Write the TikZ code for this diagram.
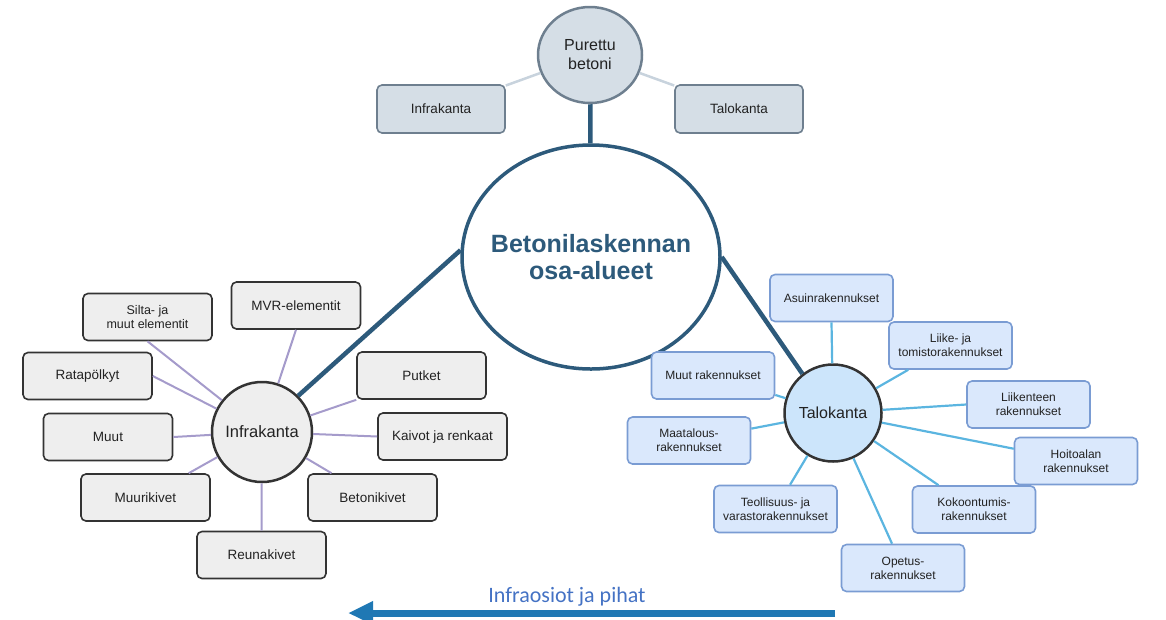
\documentclass[tikz,border=0pt]{standalone}
\usepackage{fontspec}
\setmainfont{Liberation Sans}
\newfontfamily\calibri{Carlito}
\usetikzlibrary{shapes.geometric,arrows.meta}
\definecolor{lbfill}{HTML}{EEEEEE}
\definecolor{lbdraw}{HTML}{333333}
\definecolor{lline}{HTML}{A59BCB}
\definecolor{rbfill}{HTML}{DAE8FC}
\definecolor{rbdraw}{HTML}{7A9CD3}
\definecolor{rline}{HTML}{5BB5E0}
\definecolor{tbfill}{HTML}{D5DEE6}
\definecolor{tbdraw}{HTML}{6E7F8F}
\definecolor{tline}{HTML}{C8D3DD}
\definecolor{mainc}{HTML}{2D5A7B}
\definecolor{tkfill}{HTML}{CCE5FB}
\definecolor{txt}{HTML}{222222}
\definecolor{arrowc}{HTML}{1F78B4}
\definecolor{arrowtxt}{HTML}{4472C4}
\begin{document}
\begin{tikzpicture}[x=1pt,y=-1pt,
  lbox/.style={draw=lbdraw,fill=lbfill,line width=1.6pt,rounded corners=5pt,minimum width=129pt,minimum height=47pt,inner sep=0pt,align=center,text=txt,font=\fontsize{13.5}{15}\selectfont},
  lbox2/.style={lbox,font=\fontsize{12.5}{13.5}\selectfont},
  rbox/.style={draw=rbdraw,fill=rbfill,line width=1.6pt,rounded corners=5pt,minimum width=123pt,minimum height=47pt,inner sep=0pt,align=center,text=txt,font=\fontsize{12}{14}\selectfont},
  tbox/.style={draw=tbdraw,fill=tbfill,line width=1.6pt,rounded corners=5pt,minimum width=128pt,minimum height=48pt,inner sep=0pt,align=center,text=txt,font=\fontsize{13.5}{15}\selectfont},
  lcon/.style={draw=lline,line width=2pt},
  rcon/.style={draw=rline,line width=2.2pt},
  tcon/.style={draw=tline,line width=2.5pt},
  thick/.style={draw=mainc,line width=4.5pt},
]
\useasboundingbox (0,0) rectangle (1166,619);

% main
\node[ellipse,draw=mainc,fill=white,line width=3.5pt,minimum width=258pt,minimum height=224pt,inner sep=0pt,align=center,text=mainc,font=\bfseries\fontsize{25}{27}\selectfont] (main) at (591,257) {\makebox[0pt][c]{Betonilaskennan}\\\makebox[0pt][c]{osa-alueet}};

% top
\node[ellipse,draw=tbdraw,fill=tbfill,line width=2.5pt,minimum width=104pt,minimum height=96pt,inner sep=0pt,align=center,text=txt,font=\fontsize{16}{19}\selectfont] (pb) at (590,55) {Purettu\\betoni};
\node[tbox] (tik) at (441,109) {Infrakanta};
\node[tbox] (ttk) at (739,109) {Talokanta};

% left cluster
\node[circle,draw=lbdraw,fill=lbfill,line width=2.5pt,minimum size=100pt,inner sep=0pt,text=txt,font=\fontsize{16.5}{18}\selectfont] (ik) at (262,432) {Infrakanta};
\node[lbox2] (silta) at (147.5,317) {Silta- ja\\muut elementit};
\node[lbox] (mvr) at (296,305.5) {MVR-elementit};
\node[lbox] (rata) at (87.5,376) {Ratapölkyt};
\node[lbox] (muut) at (108,437) {Muut};
\node[lbox] (muuri) at (145.5,497.5) {Muurikivet};
\node[lbox] (reuna) at (261.5,555) {Reunakivet};
\node[lbox] (betoni) at (372.5,497.5) {Betonikivet};
\node[lbox] (kaivot) at (442.5,436.5) {Kaivot ja renkaat};
\node[lbox] (putket) at (421.5,375.5) {Putket};

% right cluster
\node[circle,draw=lbdraw,fill=tkfill,line width=2.5pt,minimum size=97pt,inner sep=0pt,text=txt,font=\fontsize{16}{18}\selectfont] (tk) at (833,413) {Talokanta};
\node[rbox] (asuin) at (831.5,298) {Asuinrakennukset};
\node[rbox] (liike) at (950.5,345.5) {Liike- ja\\tomistorakennukset};
\node[rbox] (liikenne) at (1028.5,404.5) {Liikenteen\\rakennukset};
\node[rbox] (hoito) at (1076,461) {Hoitoalan\\rakennukset};
\node[rbox] (kokoon) at (974,509.5) {Kokoontumis-\\rakennukset};
\node[rbox] (opetus) at (903,568) {Opetus-\\rakennukset};
\node[rbox] (teoll) at (775.5,509) {Teollisuus- ja\\varastorakennukset};
\node[rbox] (maat) at (689,440.5) {Maatalous-\\rakennukset};
\node[rbox] (muutr) at (713,375.5) {Muut rakennukset};

% connectors top
\draw[tcon] (tik) -- (pb);
\draw[tcon] (ttk) -- (pb);
\draw[thick] (pb) -- (main);
\draw[thick] (ik.north east) -- (main.177);
\draw[thick] (main.east) -- (tk.128);

% connectors left
\draw[lcon] (silta.south) -- (ik);
\draw[lcon] (mvr.south) -- (ik);
\draw[lcon] (rata.east) -- (ik);
\draw[lcon] (muut.east) -- (ik);
\draw[lcon] (muuri) -- (ik);
\draw[lcon] (reuna.north) -- (ik);
\draw[lcon] (betoni) -- (ik);
\draw[lcon] (kaivot.west) -- (ik);
\draw[lcon] (putket.south west) -- (ik);

% connectors right
\draw[rcon] (asuin.south) -- (tk);
\draw[rcon] (liike) -- (tk);
\draw[rcon] (liikenne.west) -- (tk);
\draw[rcon] (hoito) -- (tk);
\draw[rcon] (kokoon) -- (tk);
\draw[rcon] (opetus) -- (tk);
\draw[rcon] (teoll) -- (tk);
\draw[rcon] (maat) -- (tk);
\draw[rcon] (muutr) -- (tk);

% bottom arrow
\coordinate (as) at (835,613);
\coordinate (ae) at (348,613);
\draw[draw=arrowc,line width=7pt,-{Triangle[length=25pt,width=22pt]}] (as) -- (ae);
\node[text=arrowtxt,font=\calibri\fontsize{22}{24}\selectfont,inner sep=0pt] (lbl) at (567,597) {Infraosiot ja pihat};
\end{tikzpicture}
\end{document}
